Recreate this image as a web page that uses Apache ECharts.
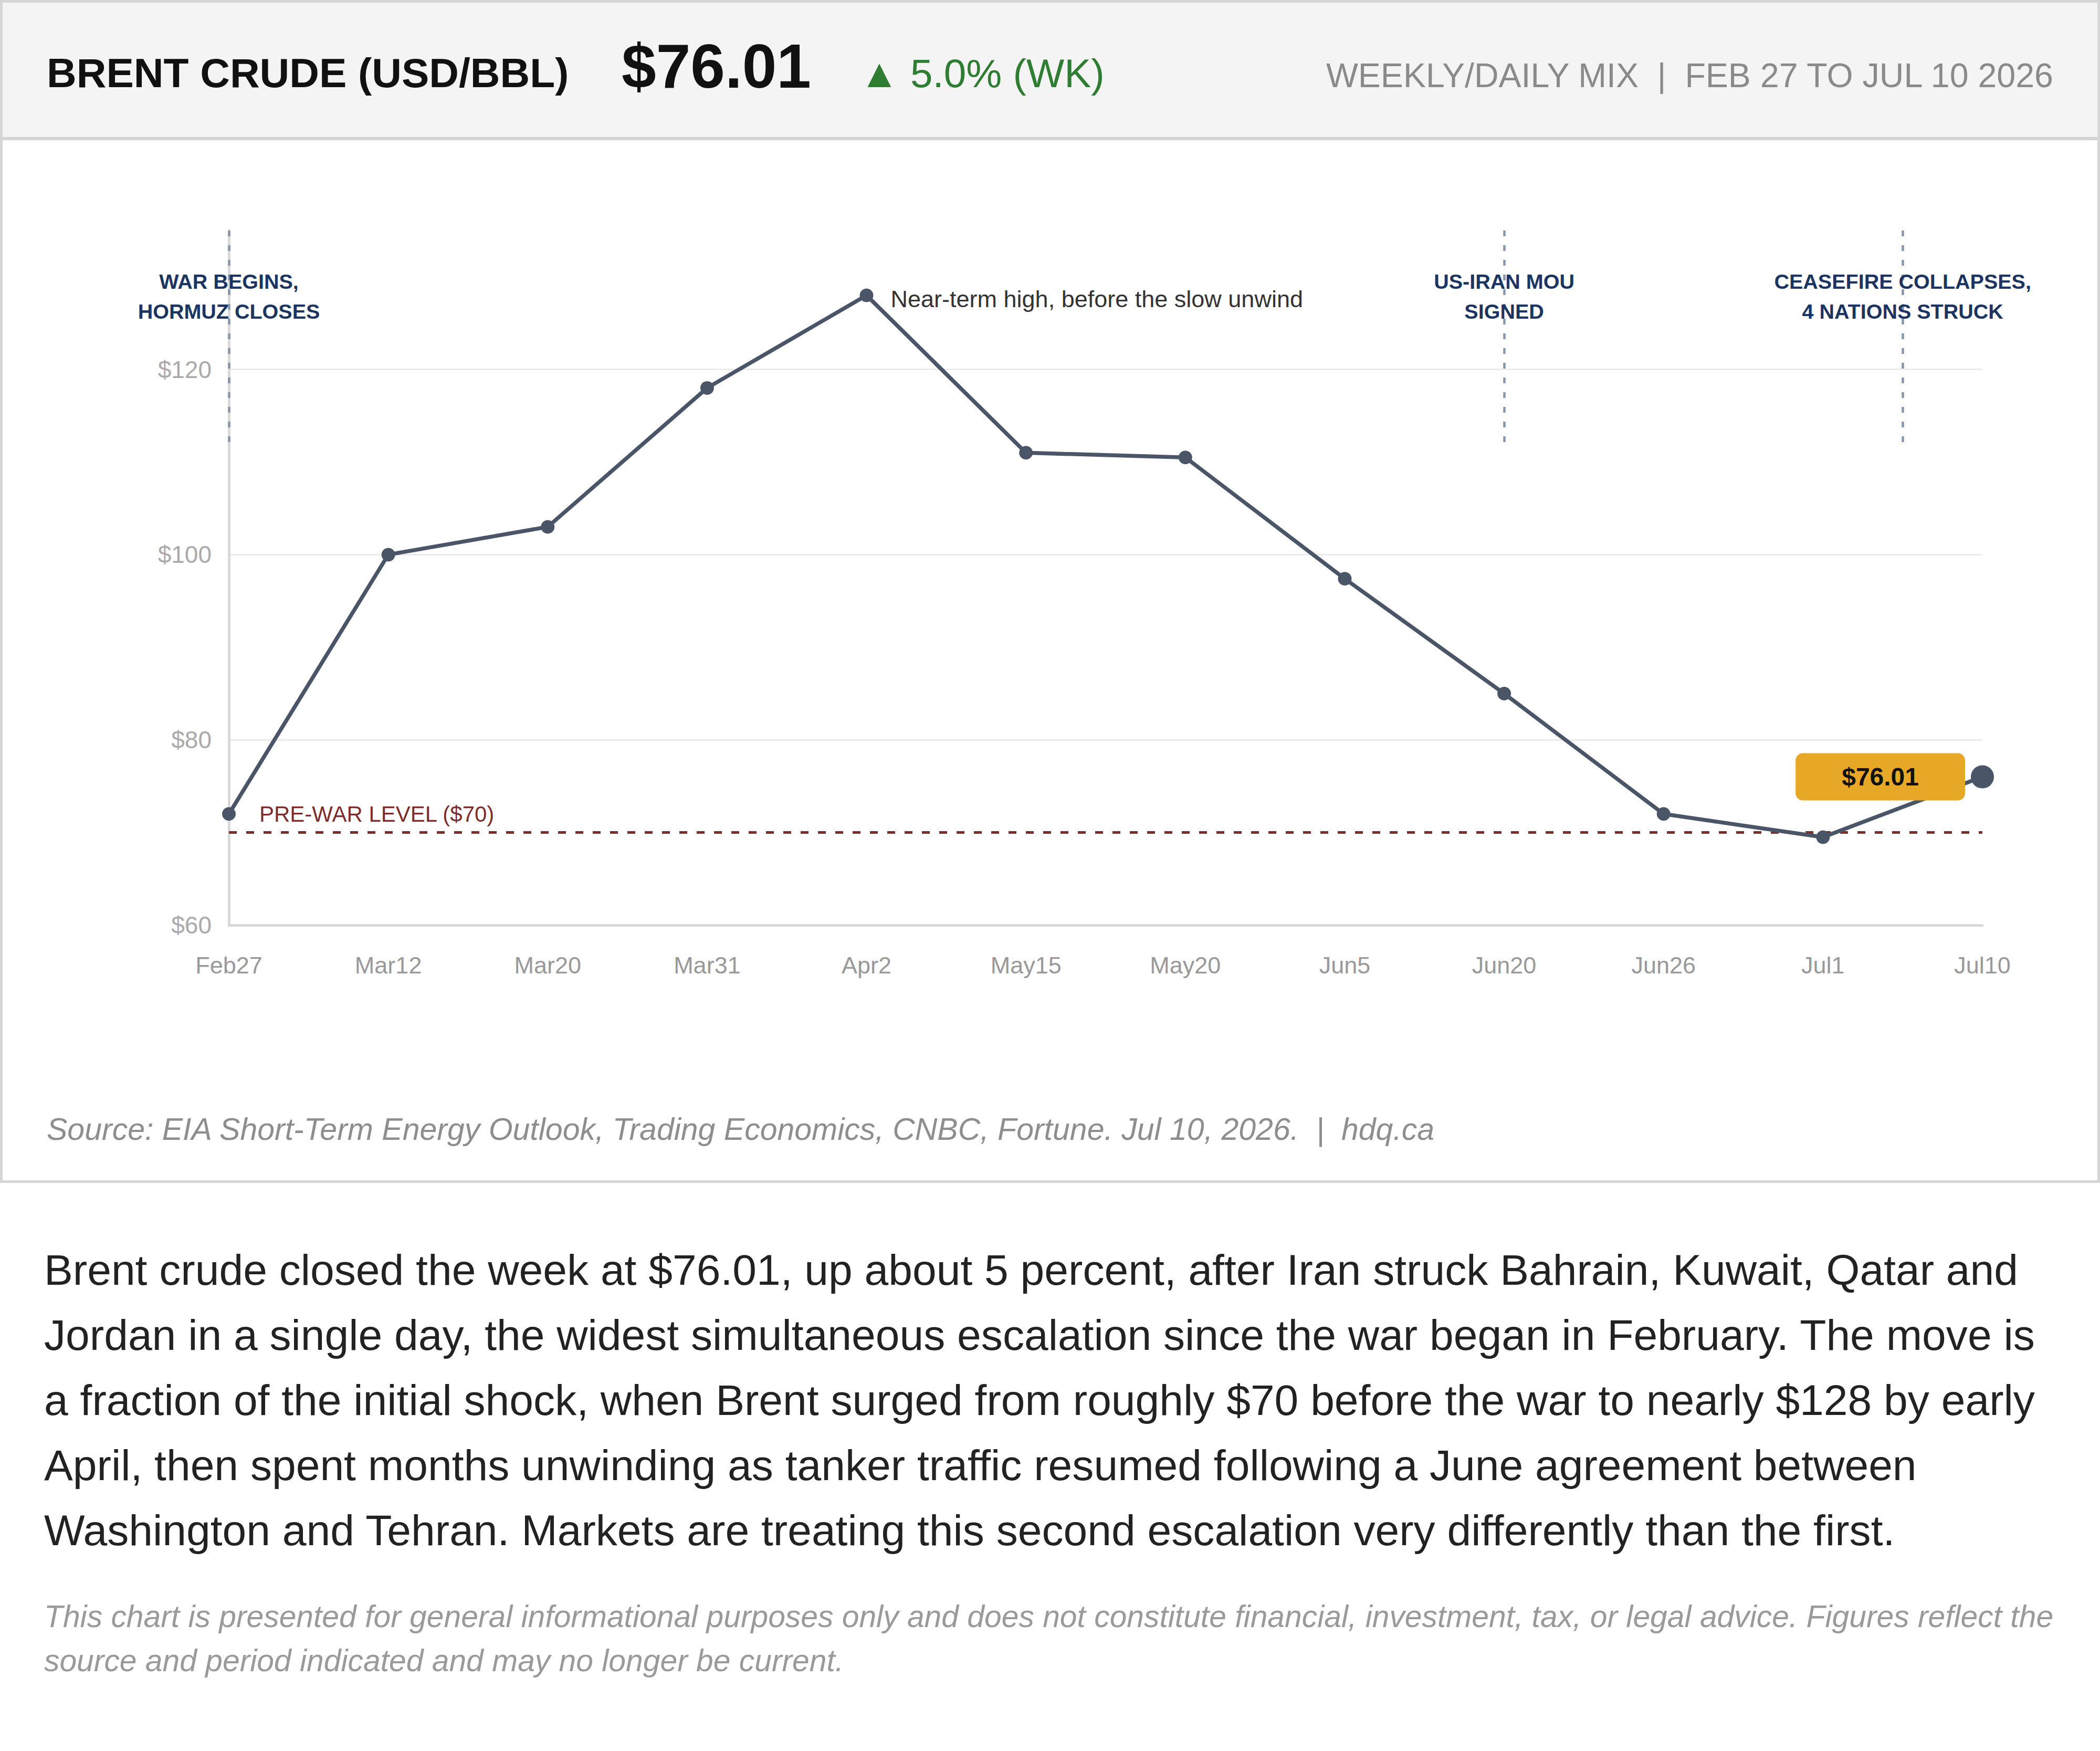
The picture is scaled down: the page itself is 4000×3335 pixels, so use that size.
<!DOCTYPE html>
<html>
<head>
<meta charset="utf-8">
<script src="https://cdn.jsdelivr.net/npm/echarts@6.0.0/dist/echarts.min.js"></script>
<style>
  html, body { margin: 0; padding: 0; background: #fff; }
  body { width: 4000px; height: 3335px; position: relative; font-family: "Liberation Sans", Arial, sans-serif; overflow: hidden; }
  .card { position: absolute; left: 0; top: 0; width: 4000px; height: 2253px; box-sizing: border-box; border: 5px solid #d6d6d6; }
  .head { position: absolute; left: 0; top: 0; width: 3990px; height: 256px; background: #f4f4f4; border-bottom: 6px solid #d4d4d4; z-index: 2; }
  .t { position: absolute; white-space: nowrap; }
  #chart { position: absolute; left: 0; top: 0; width: 3990px; height: 2243px; z-index: 1; }
  .src { position: absolute; left: 84px; top: 2111px; font-size: 59px; line-height: 70px; font-style: italic; color: #8e8e8e; white-space: nowrap; z-index: 3; }
  .para { position: absolute; left: 84px; top: 2357px; font-size: 82.2px; line-height: 124px; color: #222; white-space: nowrap; }
  .disc { position: absolute; left: 84px; top: 3037px; font-size: 58.8px; line-height: 84px; font-style: italic; color: #9a9a9a; white-space: nowrap; }
</style>
</head>
<body>
<div class="card">
  <div class="head">
    <div class="t" style="left:84px; top:95px; font-size:78.5px; line-height:78.5px; font-weight:bold; color:#111;">BRENT CRUDE (USD/BBL)</div>
    <div class="t" style="left:1179px; top:62px; font-size:118px; line-height:118px; font-weight:bold; color:#111;">$76.01</div>
    <div class="t" style="left:1632px; top:97px; font-size:76.5px; line-height:76.5px; color:#2e7d32;">▲ 5.0% (WK)</div>
    <div class="t" style="right:84px; top:107px; font-size:64.5px; line-height:64.5px; color:#8a8a8a;">WEEKLY/DAILY MIX&nbsp;&nbsp;|&nbsp;&nbsp;FEB 27 TO JUL 10 2026</div>
  </div>
  <div id="chart"></div>
  <div class="src">Source: EIA Short-Term Energy Outlook, Trading Economics, CNBC, Fortune. Jul 10, 2026.&nbsp;&nbsp;|&nbsp;&nbsp;hdq.ca</div>
</div>
<div class="para">Brent crude closed the week at $76.01, up about 5 percent, after Iran struck Bahrain, Kuwait, Qatar and<br>Jordan in a single day, the widest simultaneous escalation since the war began in February. The move is<br>a fraction of the initial shock, when Brent surged from roughly $70 before the war to nearly $128 by early<br>April, then spent months unwinding as tanker traffic resumed following a June agreement between<br>Washington and Tehran. Markets are treating this second escalation very differently than the first.</div>
<div class="disc">This chart is presented for general informational purposes only and does not constitute financial, investment, tax, or legal advice. Figures reflect the<br>source and period indicated and may no longer be current.</div>

<script>
// data
var dates = ['Feb27', 'Mar12', 'Mar20', 'Mar31', 'Apr2', 'May15', 'May20', 'Jun5', 'Jun20', 'Jun26', 'Jul1', 'Jul10'];
var prices = [72, 100, 103, 118, 128, 111, 110.5, 97.4, 85, 72, 69.5, 76.01];
var yTicks = [60, 80, 100, 120];
var preWar = 70;

// event markers (x = position on the date axis)
var eventPos = [0, 8, 10.5];
var eventLabels = ['WAR BEGINS,\nHORMUZ CLOSES', 'US-IRAN MOU\nSIGNED', 'CEASEFIRE COLLAPSES,\n4 NATIONS STRUCK'];

var noteIndex = 4;
var noteText = 'Near-term high, before the slow unwind';
var lastIndex = prices.length - 1;

var FONT = '"Liberation Sans", Arial, sans-serif';
var LINE = '#4a5568';

var chart = echarts.init(document.getElementById('chart'), null, { renderer: 'svg' });

var seriesData = prices.map(function (v, i) {
    var item = { value: [i, v] };
    if (i === noteIndex) {
        item.label = {
            show: true, position: 'right', distance: 33, offset: [0, 7],
            formatter: noteText, color: '#333', fontSize: 45, fontFamily: FONT
        };
    }
    if (i === lastIndex) {
        item.symbolSize = 44;
        item.label = {
            show: true, position: 'left', distance: 11,
            formatter: '$' + v.toFixed(2),
            color: '#111', fontSize: 48, fontWeight: 'bold', fontFamily: FONT,
            lineHeight: 48, backgroundColor: '#e8a827', borderRadius: 14, padding: [21, 88]
        };
    }
    return item;
});

var eventLines = eventPos.map(function (x) {
    return [
        { coord: [x, 135], label: { show: false },
          lineStyle: { color: '#8794aa', width: 4.5, type: [11, 17] } },
        { coord: [x, 112] }
    ];
});

chart.setOption({
    animation: false,
    grid: { left: 431, right: 219, top: 434, bottom: 486, containLabel: false, outerBoundsMode: 'none' },
    xAxis: {
        type: 'value', min: 0, max: dates.length - 1, interval: 1,
        axisLine: { show: true, lineStyle: { color: '#d9d9d9', width: 5 } },
        axisTick: { show: false },
        splitLine: { show: false },
        axisLabel: {
            margin: 54, color: '#999', fontSize: 45, fontFamily: FONT,
            showMinLabel: true, showMaxLabel: true,
            formatter: function (v) { return dates[v] || ''; }
        }
    },
    yAxis: {
        type: 'value', min: yTicks[0], max: 135, interval: 20,
        axisLine: { show: true, lineStyle: { color: '#d9d9d9', width: 5 } },
        axisTick: { show: false },
        splitLine: { show: true, showMaxLine: false, showMinLine: false, lineStyle: { color: '#ebebeb', width: 3 } },
        axisLabel: {
            margin: 33, color: '#aaa', fontSize: 46, fontFamily: FONT, showMaxLabel: false,
            formatter: function (v) { return yTicks.indexOf(v) >= 0 ? '$' + v : ''; }
        }
    },
    series: [{
        type: 'line',
        data: seriesData,
        symbol: 'circle',
        symbolSize: 26,
        lineStyle: { color: LINE, width: 7.5 },
        itemStyle: { color: LINE },
        z: 5,
        markLine: {
            silent: true,
            symbol: ['none', 'none'],
            data: [
                {
                    yAxis: preWar,
                    lineStyle: { color: '#7b2d2d', width: 5, type: [15, 18] },
                    label: {
                        show: true, position: 'insideStartTop', distance: [58, 14],
                        formatter: 'PRE-WAR LEVEL ($' + preWar + ')',
                        color: '#7b2d2d', fontSize: 42, fontFamily: FONT
                    }
                }
            ].concat(eventLines)
        },
        markPoint: {
            silent: true,
            symbol: 'circle',
            symbolSize: 0,
            data: eventPos.map(function (x, k) {
                return {
                    coord: [x, 127.9],
                    label: {
                        show: true, position: 'inside', formatter: eventLabels[k],
                        color: '#1b3560', fontSize: 39.5, fontWeight: 'bold', fontFamily: FONT,
                        lineHeight: 57, align: 'center'
                    }
                };
            })
        }
    }]
});
</script>
</body>
</html>
